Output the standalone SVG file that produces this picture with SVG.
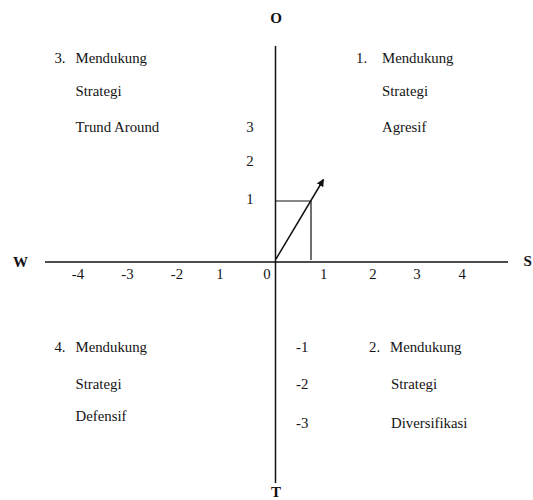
<svg xmlns="http://www.w3.org/2000/svg" width="533" height="500" viewBox="0 0 533 500">
<style>
.t{font-family:"Liberation Serif","Times New Roman",serif;font-size:14.8px;fill:#141414}
.b{font-family:"Liberation Serif","Times New Roman",serif;font-size:15px;font-weight:bold;fill:#111}
.ax{stroke:#111;stroke-width:1.5;fill:none}
.th{stroke:#111;stroke-width:1.2;fill:none}
</style>
<defs>
<marker id="ah" viewBox="0 0 10 10" refX="9" refY="5" markerWidth="5" markerHeight="5" orient="auto" markerUnits="strokeWidth">
<path d="M0,0 L10,5 L0,10 z" fill="#111"/>
</marker>
</defs>
<rect width="533" height="500" fill="#fff"/>
<g id="connectors">
<line class="ax" x1="275.5" y1="46" x2="275.5" y2="483"/>
<line class="ax" x1="45" y1="262" x2="508" y2="262"/>
<polyline class="th" points="275.5,201 311,201 311,260"/>
<line class="ax" x1="276" y1="259" x2="323.5" y2="179.5" marker-end="url(#ah)"/>
</g>
<g id="axis-labels">
<text class="b" x="276" y="23" text-anchor="middle">O</text>
<text class="b" x="276" y="497" text-anchor="middle">T</text>
<text class="b" x="13" y="266.5">W</text>
<text class="b" x="523.5" y="266">S</text>
</g>
<g id="ticks">
<text class="t" x="78" y="278.5" text-anchor="middle">-4</text>
<text class="t" x="127.5" y="278.5" text-anchor="middle">-3</text>
<text class="t" x="177" y="278.5" text-anchor="middle">-2</text>
<text class="t" x="220" y="278.5" text-anchor="middle">1</text>
<text class="t" x="267" y="278.5" text-anchor="middle">0</text>
<text class="t" x="323.7" y="278.5" text-anchor="middle">1</text>
<text class="t" x="373" y="278.5" text-anchor="middle">2</text>
<text class="t" x="417" y="278.5" text-anchor="middle">3</text>
<text class="t" x="462.3" y="278.5" text-anchor="middle">4</text>
<text class="t" x="250" y="131.6" text-anchor="middle">3</text>
<text class="t" x="250" y="165.5" text-anchor="middle">2</text>
<text class="t" x="250" y="203.6" text-anchor="middle">1</text>
<text class="t" x="296" y="352">-1</text>
<text class="t" x="296" y="389.4">-2</text>
<text class="t" x="296" y="427.5">-3</text>
</g>
<g id="q3">
<text class="t" x="54.4" y="63.2">3.</text>
<text class="t" x="75.5" y="63.2">Mendukung</text>
<text class="t" x="75.5" y="96">Strategi</text>
<text class="t" x="75.5" y="131.6">Trund Around</text>
</g>
<g id="q1">
<text class="t" x="356" y="63.2">1.</text>
<text class="t" x="382" y="63.2">Mendukung</text>
<text class="t" x="382" y="96">Strategi</text>
<text class="t" x="382" y="131.6">Agresif</text>
</g>
<g id="q4">
<text class="t" x="54.4" y="352">4.</text>
<text class="t" x="75.5" y="352">Mendukung</text>
<text class="t" x="75.5" y="389">Strategi</text>
<text class="t" x="75.5" y="420.7">Defensif</text>
</g>
<g id="q2">
<text class="t" x="369" y="352">2.</text>
<text class="t" x="390" y="352">Mendukung</text>
<text class="t" x="391" y="389.4">Strategi</text>
<text class="t" x="391" y="427.5">Diversifikasi</text>
</g>
</svg>
